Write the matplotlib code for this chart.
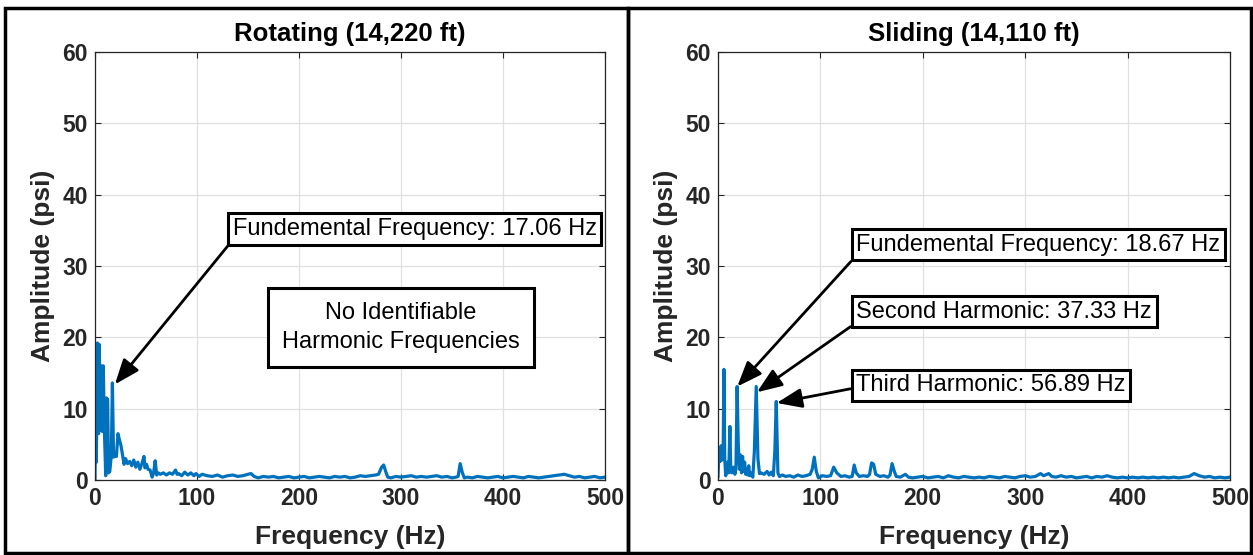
import matplotlib
matplotlib.use("Agg")
import matplotlib.pyplot as plt
from matplotlib.patches import Rectangle

plt.rcParams['font.family'] = ['Liberation Sans', 'DejaVu Sans']

# Rotating spectrum (14,220 ft)
rot_freq = [0, 0.5, 1.3, 2.4, 3.5, 4.2, 5.3, 6.2, 7.3, 8.1,
            9.2, 10.5, 11.3, 12.4, 13.3, 14.5, 16.0, 17.06, 18.2, 19.5,
            21, 22.5, 24, 25.5, 27, 28.5, 30, 32, 34, 36,
            38, 40, 42, 44, 46, 48, 49, 50.5, 52, 54,
            56, 57.5, 59, 60.5, 62, 64, 67, 70, 73, 76,
            79, 80.5, 82, 85, 88, 91, 94, 97, 99, 102,
            105, 110, 115, 120, 125, 130, 135, 140, 145, 150,
            153, 156, 160, 165, 170, 175, 180, 185, 190, 195,
            200, 205, 210, 215, 220, 225, 230, 235, 240, 245,
            250, 255, 260, 265, 270, 275, 278, 281, 283, 285,
            287, 290, 295, 300, 305, 310, 315, 320, 325, 330,
            335, 340, 345, 350, 354, 356, 358, 360, 362, 365,
            370, 375, 380, 385, 390, 395, 400, 405, 410, 415,
            420, 425, 430, 435, 440, 445, 450, 455, 460, 465,
            470, 475, 480, 485, 490, 495, 500]
rot_amp = [0, 10.5, 2.5, 19.2, 6.5, 19.0, 7.0, 16.0, 6.8, 16.0,
           7.0, 0.6, 11.5, 11.3, 1.0, 1.2, 3.5, 13.6, 3.2, 3.5,
           3.3, 6.5, 5.6, 4.8, 3.5, 2.2, 3.0, 2.3, 2.6, 2.0,
           2.8, 1.8, 2.5, 1.5, 2.3, 3.3, 1.7, 2.2, 1.5, 1.4,
           0.4, 1.0, 2.7, 0.7, 1.0, 0.8, 1.0, 0.7, 1.0, 0.8,
           1.4, 0.8, 0.9, 0.6, 1.1, 0.7, 1.0, 0.6, 0.9, 0.5,
           0.8, 0.6, 0.5, 0.7, 0.4, 0.6, 0.7, 0.5, 0.6, 0.8,
           0.9, 0.5, 0.3, 0.5, 0.4, 0.5, 0.3, 0.4, 0.5, 0.3,
           0.4, 0.5, 0.3, 0.4, 0.5, 0.4, 0.3, 0.5, 0.4, 0.5,
           0.3, 0.4, 0.6, 0.5, 0.6, 0.7, 0.8, 1.8, 2.1, 1.2,
           0.4, 0.3, 0.5, 0.4, 0.5, 0.6, 0.4, 0.5, 0.4, 0.5,
           0.6, 0.4, 0.5, 0.3, 0.4, 0.5, 2.3, 1.1, 0.3, 0.4,
           0.3, 0.5, 0.4, 0.3, 0.4, 0.5, 0.3, 0.4, 0.5, 0.4,
           0.3, 0.5, 0.4, 0.3, 0.4, 0.5, 0.6, 0.7, 0.8, 0.6,
           0.4, 0.5, 0.3, 0.4, 0.5, 0.3, 0.4]

# Sliding spectrum (14,110 ft)
sld_freq = [0, 1, 2, 3, 4, 5, 5.8, 6.6, 7.5, 8.5,
            9.5, 10.5, 11.6, 12.5, 13.5, 15, 16.5, 17.5, 18.67, 19.8,
            21, 22, 23, 24, 25, 26, 27, 28, 29, 30,
            31, 32, 34, 35.5, 37.33, 39, 40.5, 42, 45, 48,
            50, 52, 54, 55.5, 56.89, 58.5, 60, 63, 66, 70,
            74, 78, 82, 86, 90, 92, 94, 96, 98, 102,
            106, 110, 113, 116, 120, 124, 128, 131, 133, 135,
            138, 142, 146, 148, 150, 152, 154, 158, 162, 166,
            168, 170, 172, 174, 178, 183, 186, 190, 195, 200,
            205, 210, 215, 220, 225, 230, 235, 240, 245, 250,
            255, 260, 265, 270, 275, 280, 285, 290, 295, 300,
            305, 310, 315, 318, 323, 326, 330, 335, 340, 345,
            350, 355, 360, 365, 370, 375, 380, 385, 390, 395,
            400, 405, 410, 415, 420, 425, 430, 435, 440, 445,
            450, 455, 460, 465, 470, 475, 480, 485, 490, 495,
            500]
sld_amp = [0.5, 4.0, 2.6, 4.8, 2.8, 3.5, 15.5, 3.0, 0.6, 1.2,
           2.5, 1.0, 7.5, 1.2, 1.0, 1.8, 0.8, 1.5, 13.1, 5.0,
           1.5, 3.5, 1.0, 3.3, 1.2, 2.5, 0.8, 1.6, 0.7, 2.0,
           0.6, 1.0, 0.4, 4.0, 13.1, 3.0, 0.9, 1.0, 0.8, 1.2,
           0.7, 1.1, 0.6, 4.0, 11.0, 1.0, 0.5, 0.7, 0.5, 0.6,
           0.4, 0.7, 0.5, 0.6, 0.8, 1.5, 3.2, 1.2, 0.3, 0.6,
           0.5, 0.6, 1.8, 1.0, 0.5, 0.6, 0.4, 0.5, 2.1, 1.0,
           0.5, 0.6, 0.5, 0.8, 2.4, 2.2, 0.8, 0.5, 0.6, 0.4,
           0.7, 2.3, 1.3, 0.5, 0.4, 0.8, 0.4, 0.3, 0.4, 0.5,
           0.3, 0.4, 0.5, 0.3, 0.6, 0.4, 0.3, 0.5, 0.4, 0.3,
           0.4, 0.3, 0.5, 0.4, 0.3, 0.5, 0.4, 0.3, 0.5, 0.6,
           0.4, 0.5, 0.9, 0.6, 0.9, 0.5, 0.4, 0.6, 0.4, 0.5,
           0.3, 0.4, 0.5, 0.3, 0.5, 0.4, 0.6, 0.4, 0.3, 0.4,
           0.3, 0.4, 0.3, 0.4, 0.3, 0.4, 0.3, 0.4, 0.3, 0.4,
           0.3, 0.4, 0.5, 0.9, 0.6, 0.4, 0.5, 0.3, 0.4, 0.3,
           0.4]

titles = ['Rotating (14,220 ft)', 'Sliding (14,110 ft)']
xticks = [0, 100, 200, 300, 400, 500]
yticks = [0, 10, 20, 30, 40, 50, 60]

line_color = '#0072BD'
W, H = 1253, 555
fig = plt.figure(figsize=(12.53, 5.55), dpi=100)

# panel frames
for x0, x1 in [(5, 628), (628, 1251)]:
    fig.patches.append(Rectangle((x0 / W, 1 - 553 / H), (x1 - x0) / W, (553 - 8) / H,
                                 transform=fig.transFigure, fill=False,
                                 edgecolor='black', linewidth=2.5))

ax1 = fig.add_axes([95 / W, 1 - 480 / H, 510 / W, 428 / H])
ax2 = fig.add_axes([718 / W, 1 - 480 / H, 512 / W, 428 / H])

for ax, f, a, t in [(ax1, rot_freq, rot_amp, titles[0]), (ax2, sld_freq, sld_amp, titles[1])]:
    ax.plot(f, a, color=line_color, linewidth=2.3)
    ax.set_xlim(0, 500)
    ax.set_ylim(0, 60)
    ax.set_xticks(xticks)
    ax.set_yticks(yticks)
    ax.grid(True, color='#e0e0e0', linewidth=0.9)
    ax.set_axisbelow(True)
    ax.tick_params(direction='in', top=True, right=True, length=4, width=0.8,
                   labelsize=16.5, colors='#262626', pad=5)
    for lab in ax.get_xticklabels() + ax.get_yticklabels():
        lab.set_fontweight('bold')
    for s in ax.spines.values():
        s.set_color('#262626')
        s.set_linewidth(0.9)
    ax.set_title(t, fontsize=18.5, fontweight='bold', pad=8)
    ax.set_xlabel('Frequency (Hz)', fontsize=19, fontweight='bold', color='#262626', labelpad=11)
    ax.set_ylabel('Amplitude (psi)', fontsize=19, fontweight='bold', color='#262626', labelpad=5)

box = dict(boxstyle='square,pad=0.2', facecolor='white', edgecolor='black', linewidth=2.2)
arrow = dict(arrowstyle='-|>,head_length=0.9,head_width=0.35', color='black', linewidth=2,
             shrinkA=0, shrinkB=0)

ax1.annotate('Fundemental Frequency: 17.06 Hz', xy=(19.5, 13.4), xytext=(135, 35.2),
             fontsize=17, va='center', ha='left', bbox=box,
             arrowprops=dict(arrow, relpos=(0, 0)))
ax1.text(300, 21.4, 'No Identifiable\nHarmonic Frequencies', fontsize=17, ha='center',
         va='center', linespacing=1.4, bbox=dict(box, boxstyle='square,pad=0.6'))

ax2.annotate('Fundemental Frequency: 18.67 Hz', xy=(18.8, 13.1), xytext=(135, 33.0),
             fontsize=17, va='center', ha='left', bbox=box,
             arrowprops=dict(arrow, relpos=(0, 0)))
ax2.annotate('Second Harmonic: 37.33 Hz', xy=(38.0, 12.3), xytext=(135, 23.6),
             fontsize=17, va='center', ha='left', bbox=box,
             arrowprops=dict(arrow, relpos=(0, 0)))
ax2.annotate('Third Harmonic: 56.89 Hz', xy=(57.3, 10.8), xytext=(135, 13.25),
             fontsize=17, va='center', ha='left', bbox=box,
             arrowprops=dict(arrow, relpos=(0, 0.4)))

fig.savefig('out.png', dpi=100)
